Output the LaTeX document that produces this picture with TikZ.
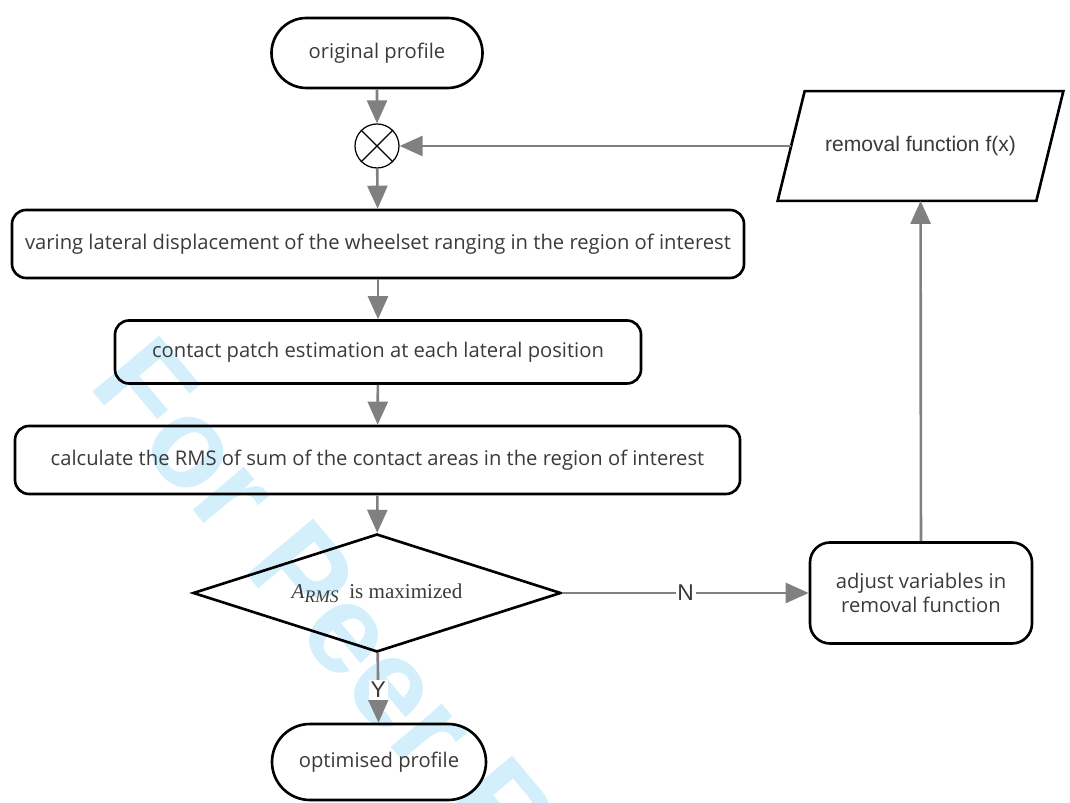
\documentclass[tikz,border=0pt]{standalone}
\usepackage{fontspec}
\setmainfont{Open Sans}
\newfontfamily\arialfont{Liberation Sans}
\newfontfamily\timesfont{Liberation Serif}
\usepackage{xcolor}
\usepackage{tikz}
\usetikzlibrary{arrows.meta, positioning, calc, shapes.geometric, shapes.misc}
\definecolor{flowgray}{HTML}{808080}
\definecolor{textgray}{HTML}{3A3A3A}
\definecolor{markblue}{HTML}{D4EFFC}

\begin{document}
\begin{tikzpicture}[>=Stealth, font=\fontsize{11.5}{13.5}\selectfont,
    process/.style={draw, line width=1.5pt, rounded corners=0.28cm, text=textgray, inner sep=0pt},
    terminal/.style={draw, line width=1.5pt, rounded rectangle, text=textgray, inner sep=0pt},
    flow/.style={draw=flowgray, line width=1.5pt, -{Triangle[length=0.46cm, width=0.4cm]}},
    answer/.style={fill=white, inner sep=1pt, text=textgray, font=\arialfont\fontsize{13}{15}\selectfont}]
    \useasboundingbox (0, 0) rectangle (21.4, 16.06);

    % Watermark
    \node[anchor=base west, rotate=-50, text=markblue, font=\arialfont\bfseries\fontsize{72}{72}\selectfont, inner sep=0pt]
        (mark) at (1.75, 8.36) {For Peer Review};

    % Main column
    \node[terminal, minimum width=4.22cm, minimum height=1.4cm] (orig) at (7.54, 15.0) {original profile};
    \node[draw, circle, line width=0.7pt, minimum size=0.88cm, inner sep=0pt] (sum) at (7.54, 13.14) {};
    \draw[line width=0.7pt] (sum.north west) -- (sum.south east) (sum.north east) -- (sum.south west);
    \node[process, minimum width=14.64cm, minimum height=1.36cm] (vary) at (7.56, 11.18)
        {varing lateral displacement of the wheelset ranging in the region of interest};
    \node[process, minimum width=10.52cm, minimum height=1.26cm] (patch) at (7.56, 9.02)
        {contact patch estimation at each lateral position};
    \node[process, minimum width=14.5cm, minimum height=1.36cm] (rms) at (7.55, 6.86)
        {calculate the RMS of sum of the contact areas in the region of interest};
    \node[draw, diamond, line width=1.5pt, aspect=3.1, inner sep=0pt, minimum width=7.36cm, minimum height=2.36cm,
        text=textgray, font=\timesfont\fontsize{12}{14}\selectfont] (check) at (7.54, 4.2)
        {\textit{A}\raisebox{-0.45ex}{\fontsize{10}{12}\selectfont\textit{RMS}}\ \ is maximized};
    \node[terminal, minimum width=4.28cm, minimum height=1.52cm] (opt) at (7.58, 0.82) {optimised profile};

    % Feedback column
    \node[process, rounded corners=0.4cm, minimum width=4.44cm, minimum height=2.02cm, align=center] (adjust) at (18.42, 4.2)
        {adjust variables in\\removal function};
    \node[minimum width=5.16cm, minimum height=2.18cm, inner sep=0pt, text=textgray,
        font=\arialfont\fontsize{12}{14}\selectfont] (removal) at (18.41, 13.14) {removal function f(x)};
    \draw[line width=1.5pt] ($(removal.south west)+(-0.27,0)$) -- ($(removal.north west)+(0.27,0)$)
        -- ($(removal.north east)+(0.27,0)$) -- ($(removal.south east)+(-0.27,0)$) -- cycle;

    % Connectors
    \draw[flow] (orig) -- (sum);
    \draw[flow] (sum) -- (vary);
    \draw[flow] (vary) -- (patch);
    \draw[flow] (patch) -- (rms);
    \draw[flow] (rms) -- (check);
    \draw[flow] (check) -- node[answer, pos=0.53] {Y} (opt);
    \draw[flow] (check) -- node[answer, pos=0.5] {N} (adjust);
    \draw[flow] (adjust) -- (removal);
    \draw[flow] (removal.west) -- (sum);
\end{tikzpicture}
\end{document}
